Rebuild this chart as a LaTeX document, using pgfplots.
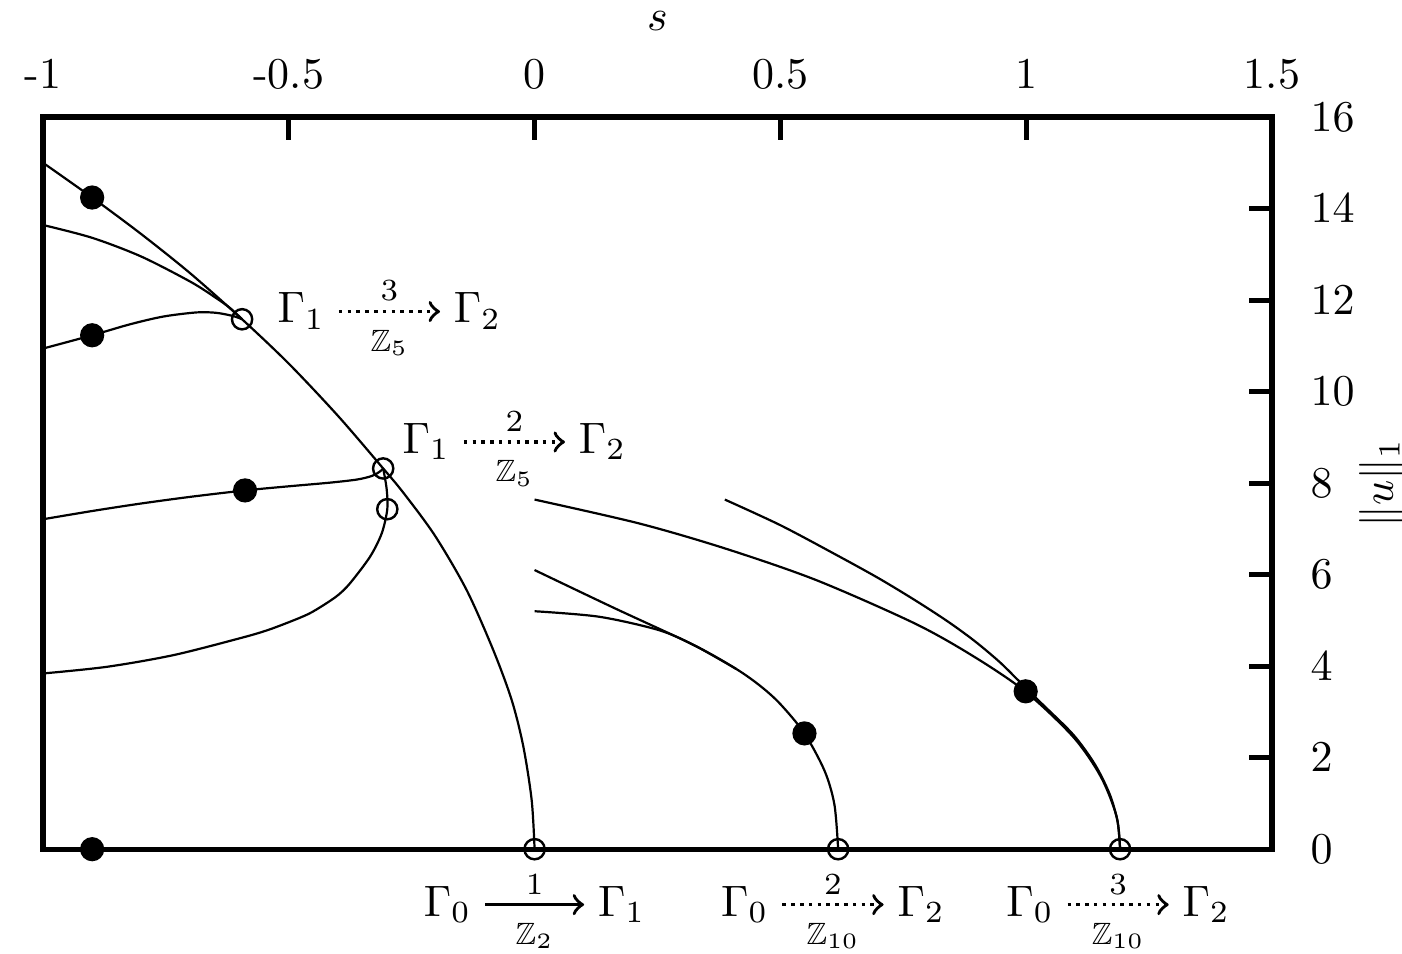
\documentclass[border=0pt]{standalone}
\usepackage{amsmath,amssymb}
\usepackage{pgfplots}
\pgfplotsset{compat=1.18}

\newcommand{\solidarr}[2]{\mathrel{\overset{#1}{\underset{#2}{\tikz[baseline=-0.6ex]\draw[line width=0.8pt,->] (0,0)--(22.5pt,0);}}}}
\newcommand{\dotarr}[2]{\mathrel{\overset{#1}{\underset{#2}{\tikz[baseline=-0.6ex]\draw[line width=0.8pt,dash pattern=on 0.8pt off 1.2pt,->] (0,0)--(23pt,0);}}}}

\begin{document}
\begin{tikzpicture}
\begin{axis}[
  scale only axis,
  width=279.3pt, height=166.4pt,
  xmin=-1, xmax=1.5, ymin=0, ymax=16,
  clip=false,
  axis line style={line width=1.15pt},
  xtick={-1,-0.5,0,0.5,1,1.5},
  xticklabels={-1,-0.5,0,0.5,1,1.5},
  ytick={0,2,4,6,8,10,12,14,16},
  xtick pos=right, xticklabel pos=right,
  ytick pos=right, yticklabel pos=right,
  tick align=inside,
  major tick length=5.2pt,
  every tick/.style={black, line width=1.15pt},
  xticklabel style={anchor=base, inner sep=0pt, yshift=6.4pt},
  yticklabel style={anchor=west, inner sep=0pt, xshift=8.6pt},
  xlabel={$s$},
  ylabel={$\|u\|_1$},
  xlabel style={at={(axis description cs:0.5,1)}, anchor=base, inner sep=0pt, yshift=19.6pt},
  ylabel style={at={(axis description cs:1.0895,0.5)}, anchor=center, inner sep=0pt},
  every axis plot/.append style={black, line width=0.5pt},
]
% main branch
\addplot[smooth] coordinates {(-1,15.00) (-0.9,14.24) (-0.8,13.44) (-0.7,12.58) (-0.595,11.58) (-0.5,10.61) (-0.4,9.47) (-0.308,8.32) (-0.267,7.79) (-0.2026,6.85) (-0.1381,5.66) (-0.084,4.35) (-0.0466,3.26) (-0.023,2.25) (-0.0059,1.07) (0,0)};
% B
\addplot[smooth] coordinates {(-1,13.64) (-0.9,13.36) (-0.8,12.95) (-0.7,12.40) (-0.65,12.06) (-0.62,11.83) (-0.595,11.58)};
% C
\addplot[smooth] coordinates {(-1,10.94) (-0.90,11.23) (-0.823,11.47) (-0.755,11.64) (-0.687,11.73) (-0.647,11.72) (-0.613,11.65) (-0.595,11.58)};
% D
\addplot[smooth] coordinates {(-1,7.21) (-0.90,7.39) (-0.803,7.55) (-0.70,7.70) (-0.589,7.84) (-0.50,7.93) (-0.416,8.01) (-0.36,8.08) (-0.33,8.16) (-0.315,8.25) (-0.308,8.32)};
% E
\addplot[smooth] coordinates {(-1,3.84) (-0.8704,3.985) (-0.735,4.24) (-0.5993,4.61) (-0.545,4.78) (-0.4976,4.97) (-0.46,5.14) (-0.4298,5.33) (-0.40,5.55) (-0.3755,5.81) (-0.3348,6.39) (-0.311,6.90) (-0.2996,7.43) (-0.301,7.88) (-0.308,8.32)};
% F
\addplot[smooth] coordinates {(0,7.64) (0.212,7.12) (0.388,6.57) (0.573,5.88) (0.774,4.93) (0.895,4.20) (0.999,3.44) (1.096,2.45) (1.152,1.58) (1.184,0.71) (1.191,0)};
% G
\addplot[smooth] coordinates {(0.387,7.64) (0.50,7.08) (0.614,6.43) (0.70,5.92) (0.774,5.44) (0.840,4.98) (0.895,4.55) (0.945,4.10) (0.983,3.70) (1.03,3.20) (1.096,2.50) (1.140,1.85) (1.170,1.20) (1.186,0.60) (1.191,0)};
% H
\addplot[smooth] coordinates {(0,6.10) (0.16,5.28) (0.324,4.46) (0.41,3.94) (0.46,3.56) (0.50,3.17) (0.549,2.53) (0.59,1.71) (0.61,0.97) (0.6175,0)};
% I
\addplot[smooth] coordinates {(0,5.20) (0.131,5.08) (0.252,4.79) (0.324,4.46) (0.41,3.94)};
% filled markers
\addplot[only marks, mark=*, mark size=2.5pt] coordinates {(-0.9,14.24) (-0.9,11.23) (-0.589,7.84) (-0.9,0) (0.549,2.53) (0.999,3.45)};
% open markers
\addplot[only marks, mark=o, mark size=2.3pt, line width=0.55pt] coordinates {(-0.595,11.58) (-0.308,8.32) (-0.2996,7.43) (0,0) (0.6175,0) (1.191,0)};

\node[anchor=base west, inner sep=0pt] at (axis cs:-0.5246,11.50) {$\Gamma_1 \dotarr{3}{\mathbb{Z}_5} \Gamma_2$};
\node[anchor=base west, inner sep=0pt] at (axis cs:-0.2704,8.65) {$\Gamma_1 \dotarr{2}{\mathbb{Z}_5} \Gamma_2$};
\node[anchor=base, inner sep=0pt] at (axis cs:0,-1.46) {$\llap{$\Gamma_0$}\solidarr{1}{\mathbb{Z}_2}\rlap{$\Gamma_1$}$};
\node[anchor=base, inner sep=0pt] at (axis cs:0.607,-1.46) {$\llap{$\Gamma_0$}\dotarr{2}{\mathbb{Z}_{10}}\rlap{$\Gamma_2$}$};
\node[anchor=base, inner sep=0pt] at (axis cs:1.187,-1.46) {$\llap{$\Gamma_0$}\dotarr{3}{\mathbb{Z}_{10}}\rlap{$\Gamma_2$}$};

\coordinate (SW) at (rel axis cs:0,0);
\coordinate (NE) at (rel axis cs:1,1);
\end{axis}
\pgfresetboundingbox
\path[use as bounding box] ([xshift=-9.77pt,yshift=-23.64pt]SW) rectangle ([xshift=29.55pt,yshift=26.59pt]NE);
\end{tikzpicture}
\end{document}
